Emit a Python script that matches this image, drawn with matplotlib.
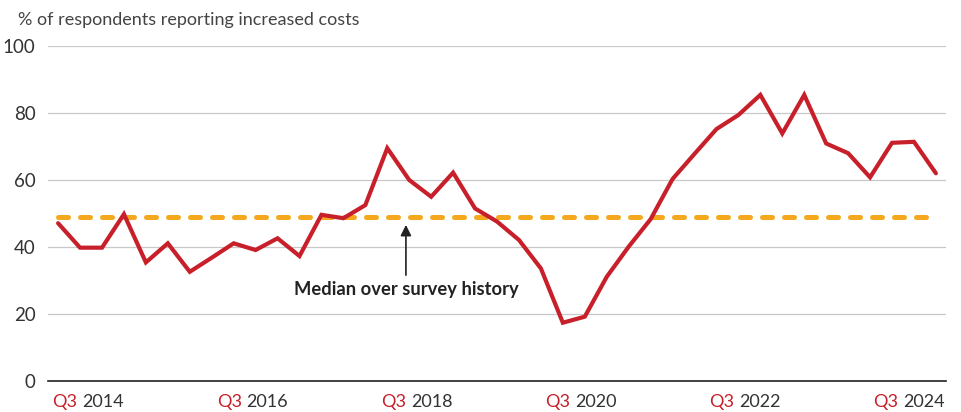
import numpy as np
import matplotlib.pyplot as plt

# quarterly survey readings, Q3 2014 .. Q3 2024
cost_pct = [47.1, 39.8, 39.8, 49.8, 35.4, 41.1, 32.6, 36.8, 41.1, 39.1,
            42.6, 37.3, 49.6, 48.6, 52.5, 69.5, 60.0, 55.0, 62.2, 51.5,
            47.6, 42.1, 33.6, 17.4, 19.2, 31.1, 40.1, 48.3, 60.3, 67.8,
            75.2, 79.4, 85.4, 73.9, 85.4, 70.9, 68.0, 60.8, 71.1, 71.4,
            62.0]
median_pct = 49.0
year_labels = ['2014', '2016', '2018', '2020', '2022', '2024']
y_ticks = [0, 20, 40, 60, 80, 100]

RED = '#C8202A'
ORANGE = '#F5A81E'
TXT = '#333333'

plt.rcParams['font.family'] = ['Lato', 'DejaVu Sans']

fig = plt.figure(figsize=(9.62, 4.12), dpi=100)
ax = fig.add_axes([48 / 962, 1 - 381 / 412, (946 - 48) / 962, (381 - 46) / 412])

x = np.arange(len(cost_pct))

ax.plot([x[0], x[-1]], [median_pct, median_pct], color=ORANGE, lw=3.6,
        dashes=(2, 2.4), dash_capstyle='round', zorder=2)
ax.plot(x, cost_pct, color=RED, lw=3.0, solid_joinstyle='miter',
        solid_capstyle='round', zorder=3)

ax.set_xlim(-0.46, 40.46)
ax.set_ylim(0, 100)
ax.set_yticks(y_ticks)
ax.set_yticklabels([str(v) for v in y_ticks])
ax.tick_params(axis='y', length=0, pad=9, labelsize=13.5, labelcolor=TXT)
ax.set_xticks([])
ax.grid(axis='y', color='#c8c8c8', lw=0.9, zorder=0)
ax.set_axisbelow(True)
for s in ['top', 'right', 'left']:
    ax.spines[s].set_visible(False)
ax.spines['bottom'].set_color('#222222')
ax.spines['bottom'].set_linewidth(1.2)
ax.spines['bottom'].set_zorder(4)

# two-colour tick labels: red "Q3" + grey year
for pos, yr in zip(np.linspace(1.0, 38.4, len(year_labels)), year_labels):
    ax.annotate('Q3', xy=(pos, 0), xycoords=('data', 'axes fraction'),
                xytext=(-1.8, -15), textcoords='offset points',
                ha='right', va='center', color=RED, fontsize=13)
    ax.annotate(yr, xy=(pos, 0), xycoords=('data', 'axes fraction'),
                xytext=(1.8, -15), textcoords='offset points',
                ha='left', va='center', color=TXT, fontsize=13)

# median annotation
ax.annotate('', xy=(15.85, 46.6), xytext=(15.85, 31.6),
            arrowprops=dict(arrowstyle='-|>', color='#222222', lw=1.2,
                            mutation_scale=16, shrinkA=0, shrinkB=0))
ax.text(15.85, 27.3, 'Median over survey history', ha='center', va='center',
        fontsize=13.2, fontweight='bold', color='#222222')

fig.text(18 / 962, 1 - 20 / 412, '% of respondents reporting increased costs',
         ha='left', va='center', fontsize=13, color='#444444')

fig.savefig('out.png', dpi=100)
